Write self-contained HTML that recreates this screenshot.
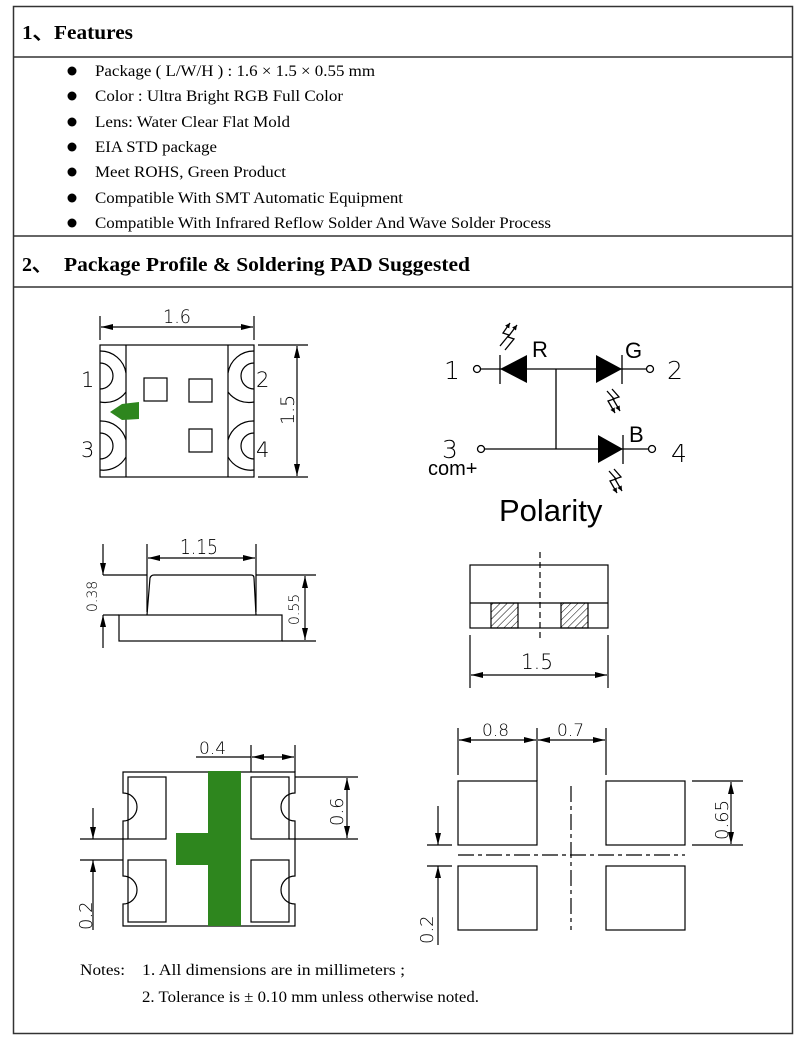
<!DOCTYPE html>
<html><head><meta charset="utf-8"><style>
html,body{margin:0;padding:0;background:#fff;}
svg{display:block}
.s{font-family:"Liberation Serif",serif;fill:#000}
.d{font-family:"DejaVu Sans","Liberation Sans",sans-serif;fill:#000;font-weight:200}
</style></head><body>
<svg width="800" height="1042" viewBox="0 0 800 1042" xmlns="http://www.w3.org/2000/svg">
<defs>
<marker id="a" viewBox="0 0 12 6" refX="12" refY="3" markerWidth="12" markerHeight="6" markerUnits="userSpaceOnUse" orient="auto-start-reverse"><path d="M0,0 L12,3 L0,6z" fill="#000"/></marker>
<marker id="sa" viewBox="0 0 6 6" refX="6" refY="3" markerWidth="5" markerHeight="5" markerUnits="userSpaceOnUse" orient="auto"><path d="M0,0 L6,3 L0,6z" fill="#000"/></marker>
<pattern id="h" width="5" height="5" patternUnits="userSpaceOnUse" patternTransform="rotate(45)"><line x1="0" y1="0" x2="0" y2="5" stroke="#000" stroke-width="1"/></pattern>
</defs>
<!-- frame -->
<rect x="13.5" y="6.5" width="779" height="1027" fill="none" stroke="#333" stroke-width="1.5"/>
<line x1="13" y1="57" x2="793" y2="57" stroke="#333" stroke-width="1.5"/>
<line x1="13" y1="236" x2="793" y2="236" stroke="#333" stroke-width="1.5"/>
<line x1="13" y1="287" x2="793" y2="287" stroke="#333" stroke-width="1.5"/>
<text class="s" x="22" y="39" font-size="20" font-weight="bold" textLength="111" lengthAdjust="spacingAndGlyphs">1、Features</text>
<text class="s" x="22" y="271" font-size="20" font-weight="bold">2、</text>
<text class="s" x="64" y="271" font-size="20" font-weight="bold" textLength="406" lengthAdjust="spacingAndGlyphs">Package Profile &amp; Soldering PAD Suggested</text>
<g class="s" font-size="16">
<circle cx="72" cy="71" r="4.5"/><text x="95" y="76" textLength="280" lengthAdjust="spacingAndGlyphs">Package ( L/W/H ) : 1.6 × 1.5 × 0.55 mm</text>
<circle cx="72" cy="96" r="4.5"/><text x="95" y="101" textLength="248" lengthAdjust="spacingAndGlyphs">Color : Ultra Bright RGB Full Color</text>
<circle cx="72" cy="122" r="4.5"/><text x="95" y="127" textLength="195" lengthAdjust="spacingAndGlyphs">Lens: Water Clear Flat Mold</text>
<circle cx="72" cy="147" r="4.5"/><text x="95" y="152" textLength="122" lengthAdjust="spacingAndGlyphs">EIA STD package</text>
<circle cx="72" cy="172" r="4.5"/><text x="95" y="177" textLength="191" lengthAdjust="spacingAndGlyphs">Meet ROHS, Green Product</text>
<circle cx="72" cy="198" r="4.5"/><text x="95" y="203" textLength="308" lengthAdjust="spacingAndGlyphs">Compatible With SMT Automatic Equipment</text>
<circle cx="72" cy="223" r="4.5"/><text x="95" y="228" textLength="456" lengthAdjust="spacingAndGlyphs">Compatible With Infrared Reflow Solder And Wave Solder Process</text>
</g>
<g fill="none" stroke="#000" stroke-width="1.2">
<!-- top view -->
<rect x="100" y="345" width="154" height="132"/>
<line x1="126" y1="345" x2="126" y2="477"/><line x1="228" y1="345" x2="228" y2="477"/>
<line x1="100" y1="316" x2="100" y2="340"/><line x1="254" y1="316" x2="254" y2="340"/>
<line x1="101" y1="327" x2="253" y2="327" marker-start="url(#a)" marker-end="url(#a)"/>
<line x1="258" y1="345" x2="308" y2="345"/><line x1="258" y1="477" x2="308" y2="477"/>
<line x1="297" y1="346" x2="297" y2="476" marker-start="url(#a)" marker-end="url(#a)"/>
<path d="M100,363 A13,13 0 0 1 100,389"/><path d="M100,351 A26,26 0 0 1 126,373"/><path d="M126,392 A26,26 0 0 1 100,402"/>
<path d="M100,433 A13,13 0 0 1 100,459"/><path d="M100,421 A26,26 0 0 1 126,440"/><path d="M126,457 A26,26 0 0 1 100,470"/>
<path d="M254,363 A13,13 0 0 0 254,389"/><path d="M254,351 A26,26 0 0 0 228,373"/><path d="M228,392 A26,26 0 0 0 254,402"/>
<path d="M254,433 A13,13 0 0 0 254,459"/><path d="M254,421 A26,26 0 0 0 228,440"/><path d="M228,457 A26,26 0 0 0 254,470"/>
<rect x="144" y="378" width="23" height="23"/><rect x="189" y="379" width="23" height="23"/><rect x="189" y="429" width="23" height="23"/>
<!-- side view -->
<path d="M147,615 L150,578 Q151,575 154,575 L251,575 Q254,575 254,578 L256,615"/>
<rect x="119" y="615" width="163" height="26"/>
<line x1="103" y1="575" x2="147" y2="575"/><line x1="256" y1="575" x2="316" y2="575"/>
<line x1="103" y1="615" x2="119" y2="615"/><line x1="282" y1="641" x2="316" y2="641"/>
<line x1="147" y1="544" x2="147" y2="612"/><line x1="256" y1="544" x2="256" y2="612"/>
<line x1="148" y1="558" x2="255" y2="558" marker-start="url(#a)" marker-end="url(#a)"/>
<line x1="103" y1="544" x2="103" y2="575" marker-end="url(#a)"/>
<line x1="103" y1="648" x2="103" y2="615" marker-end="url(#a)"/>
<line x1="305" y1="576" x2="305" y2="640" marker-start="url(#a)" marker-end="url(#a)"/>
<!-- front view -->
<rect x="470" y="565" width="138" height="63"/><line x1="470" y1="603" x2="608" y2="603"/>
<rect x="491" y="603" width="27" height="25" fill="url(#h)"/><rect x="561" y="603" width="27" height="25" fill="url(#h)"/>
<line x1="540" y1="552" x2="540" y2="640" stroke-dasharray="6,4"/>
<line x1="470" y1="635" x2="470" y2="688"/><line x1="608" y1="635" x2="608" y2="688"/>
<line x1="471" y1="675" x2="607" y2="675" marker-start="url(#a)" marker-end="url(#a)"/>
<!-- pad layout -->
<rect x="458" y="781" width="79" height="64"/><rect x="606" y="781" width="79" height="64"/>
<rect x="458" y="866" width="79" height="64"/><rect x="606" y="866" width="79" height="64"/>
<line x1="458" y1="728" x2="458" y2="775"/><line x1="537" y1="728" x2="537" y2="781"/><line x1="606" y1="728" x2="606" y2="775"/>
<line x1="459" y1="740" x2="536" y2="740" marker-start="url(#a)" marker-end="url(#a)"/>
<line x1="538" y1="740" x2="605" y2="740" marker-start="url(#a)" marker-end="url(#a)"/>
<line x1="692" y1="781" x2="743" y2="781"/><line x1="692" y1="845" x2="743" y2="845"/>
<line x1="731" y1="782" x2="731" y2="844" marker-start="url(#a)" marker-end="url(#a)"/>
<line x1="427" y1="845" x2="452" y2="845"/><line x1="427" y1="866" x2="452" y2="866"/>
<line x1="438" y1="806" x2="438" y2="845" marker-end="url(#a)"/>
<line x1="438" y1="945" x2="438" y2="866" marker-end="url(#a)"/>
<line x1="458" y1="855" x2="685" y2="855" stroke-dasharray="16,4,4,4"/>
<line x1="571" y1="786" x2="571" y2="930" stroke-dasharray="16,4,4,4"/>
<!-- bottom-left -->
<path d="M123,772 L295,772 L295,793 A14,14 0 0 0 295,821 L295,876 A14,14 0 0 0 295,904 L295,926 L123,926 L123,904 A14,14 0 0 0 123,876 L123,821 A14,14 0 0 0 123,793 Z"/>
<rect x="128" y="777" width="38" height="62"/><rect x="128" y="860" width="38" height="62"/>
<rect x="251" y="777" width="38" height="62"/><rect x="251" y="860" width="38" height="62"/>
<line x1="196" y1="757" x2="251" y2="757"/>
<line x1="251" y1="745" x2="251" y2="772"/><line x1="295" y1="745" x2="295" y2="772"/>
<line x1="252" y1="757" x2="294" y2="757" marker-start="url(#a)" marker-end="url(#a)"/>
<line x1="295" y1="777" x2="358" y2="777"/><line x1="289" y1="839" x2="358" y2="839"/>
<line x1="347" y1="778" x2="347" y2="838" marker-start="url(#a)" marker-end="url(#a)"/>
<line x1="80" y1="839" x2="128" y2="839"/><line x1="80" y1="860" x2="123" y2="860"/>
<line x1="93" y1="808" x2="93" y2="839" marker-end="url(#a)"/>
<line x1="93" y1="930" x2="93" y2="860" marker-end="url(#a)"/>
</g>
<rect x="208" y="771" width="33" height="155" fill="#2e861e"/>
<rect x="176" y="833" width="33" height="32" fill="#2e861e"/>
<path d="M110,412 L122,404 L139,402 L139,419 L122,420 Z" fill="#2e861e"/>
<!-- dimension labels -->
<g class="d" font-size="21">
<text x="81" y="387">1</text><text x="256" y="387">2</text>
<text x="81" y="457">3</text><text x="256" y="457">4</text>
<text x="163" y="323" font-size="19" textLength="28" lengthAdjust="spacingAndGlyphs">1.6</text>
<text x="180" y="554" font-size="20" textLength="38" lengthAdjust="spacingAndGlyphs">1.15</text>
<text x="521" y="669" font-size="21" textLength="32" lengthAdjust="spacingAndGlyphs">1.5</text>
<text x="482" y="736" font-size="17">0.8</text><text x="557" y="736" font-size="17">0.7</text>
<text x="199" y="754" font-size="17">0.4</text>
<text transform="translate(294,425) rotate(-90)" font-size="19">1.5</text>
<text transform="translate(97,612) rotate(-90)" font-size="14">0.38</text>
<text transform="translate(299,625) rotate(-90)" font-size="14">0.55</text>
<text transform="translate(343,826) rotate(-90)" font-size="18">0.6</text>
<text transform="translate(728,840) rotate(-90)" font-size="18">0.65</text>
<text transform="translate(92,930) rotate(-90)" font-size="18">0.2</text>
<text transform="translate(433,944) rotate(-90)" font-size="18">0.2</text>
</g>
<!-- polarity -->
<g fill="none" stroke="#000" stroke-width="1.3">
<circle cx="477" cy="369" r="3.5"/><circle cx="650" cy="369" r="3.5"/>
<circle cx="481" cy="449" r="3.5"/><circle cx="652" cy="449" r="3.5"/>
<line x1="480" y1="369" x2="647" y2="369"/>
<line x1="484" y1="449" x2="649" y2="449"/>
<line x1="556" y1="369" x2="556" y2="449"/>
<line x1="500" y1="355" x2="500" y2="384"/><line x1="622" y1="355" x2="622" y2="384"/><line x1="623" y1="435" x2="623" y2="464"/>
<polyline points="505,350 514,339 508,337 517,325" marker-end="url(#sa)"/>
<polyline points="500,346 509,335 503,333 510,323" marker-end="url(#sa)"/>
<polyline points="607,391 614,399 608,401 615,413" marker-end="url(#sa)"/>
<polyline points="612,389 619,397 613,399 620,411" marker-end="url(#sa)"/>
<polyline points="609,471 616,479 610,481 617,493" marker-end="url(#sa)"/>
<polyline points="614,469 621,477 615,479 622,491" marker-end="url(#sa)"/>
</g>
<path d="M500,369 L527,355 L527,383 Z" fill="#000"/>
<path d="M596,355 L622,369 L596,383 Z" fill="#000"/>
<path d="M598,435 L623,449 L598,463 Z" fill="#000"/>
<g class="d" font-size="25">
<text x="444" y="379">1</text><text x="667" y="379">2</text>
<text x="442" y="458">3</text><text x="671" y="462">4</text>
</g>
<g font-family="'Liberation Sans',sans-serif" fill="#000">
<text x="532" y="357" font-size="22">R</text>
<text x="625" y="358" font-size="22">G</text>
<text x="629" y="442" font-size="22">B</text>
<text x="428" y="475" font-size="20">com+</text>
<text x="499" y="521" font-size="31">Polarity</text>
</g>
<!-- notes -->
<g class="s" font-size="16">
<text x="80" y="975" textLength="45" lengthAdjust="spacingAndGlyphs">Notes:</text>
<text x="142" y="975" textLength="263" lengthAdjust="spacingAndGlyphs">1. All dimensions are in millimeters ;</text>
<text x="142" y="1002" textLength="337" lengthAdjust="spacingAndGlyphs">2. Tolerance is ± 0.10 mm unless otherwise noted.</text>
</g>
</svg>
</body></html>
